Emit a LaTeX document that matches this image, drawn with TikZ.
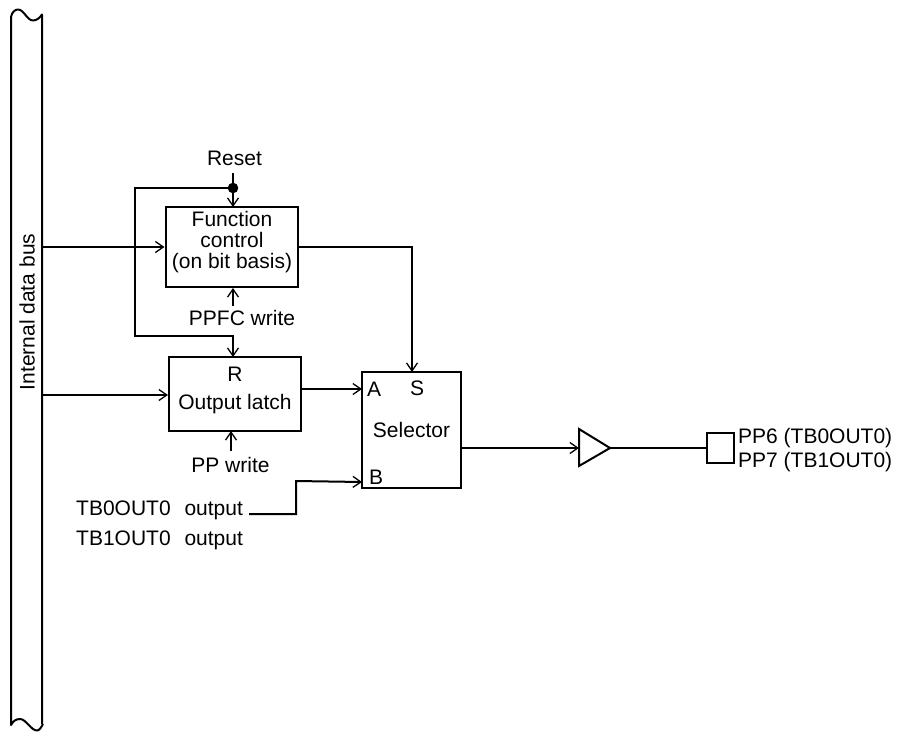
\documentclass[tikz,border=0pt]{standalone}
\usepackage{fontspec}
\setmainfont{Liberation Sans}
\usetikzlibrary{arrows.meta}
\tikzset{
  x=1pt,y=-1pt,
  wire/.style={line width=2pt,-{Straight Barb[length=8pt,width=11pt,line width=1.3pt]}},
  plainwire/.style={line width=2pt},
  blockbox/.style={draw,line width=2pt,inner sep=0pt,align=center},
  lbl/.style={font=\fontsize{21}{21}\selectfont,inner sep=0pt,align=center},
}
\begin{document}
\begin{tikzpicture}
\useasboundingbox (0,0) rectangle (901,731);
% bus
\draw[line width=2pt,line join=round] (42,724) -- (42,14.5) .. controls (40,17.5) and (37,20.5) .. (33,20.5)
  .. controls (27,20.5) and (24,9.5) .. (18,9.5) .. controls (15,9.5) and (12,12) .. (11,17) -- (11,725)
  .. controls (13,721) and (16,719) .. (20,719) .. controls (26,719) and (31,730.5) .. (37,730.5) .. controls (39,730.5) and (41,728) .. (43,724);
\node[lbl,rotate=90] (busl) at (27,312) {Internal data bus};
% blocks
\node[blockbox,minimum width=132pt,minimum height=80pt] (fc) at (231.5,247) {};
\node[lbl] (fct) at (232,242.5) {Function\\control\\(on bit basis)};
\node[blockbox,minimum width=132pt,minimum height=74pt] (ol) at (235,394) {};
\node[lbl] (olr) at (235,374) {R};
\node[lbl] (olt) at (235,404) {Output latch};
\node[blockbox,minimum width=99pt,minimum height=116pt] (sel) at (411.5,430) {};
\node[lbl] (sela) at (374,389.5) {A};
\node[lbl] (sels) at (417,388.5) {S};
\node[lbl] (selt) at (411.5,430) {Selector};
\node[lbl] (selb) at (376,477) {B};
\node[draw,line width=2pt,minimum width=27pt,minimum height=30pt,inner sep=0pt] (pad) at (720.5,448) {};
% buffer
\coordinate (ti) at (579,448);
\coordinate (to) at (610,448);
\draw[line width=2pt,line join=miter] (579,429) -- (610,448) -- (579,466) -- cycle;
% labels
\node[lbl] (reset) at (234.5,158) {Reset};
\node[lbl] (ppfc) at (242,318) {PPFC write};
\node[lbl] (ppw) at (230.5,465) {PP write};
\node[lbl,anchor=base west] (tb0) at (76,515) {TB0OUT0\hspace{8pt} output};
\node[lbl,anchor=base west] (tb1) at (76,545.5) {TB1OUT0\hspace{8pt} output};
\node[lbl,anchor=base west] (pp6) at (738,443) {PP6 (TB0OUT0)};
\node[lbl,anchor=base west] (pp7) at (738,467) {PP7 (TB1OUT0)};
% junction + free coordinates
\coordinate (rtop) at (233,173);
\coordinate (dot) at (233,188);
\coordinate (lt) at (135,188);
\coordinate (lb) at (135,336);
\coordinate (lr) at (233,336);
\fill (dot) circle (5.3pt);
\draw[wire] (rtop) -- (233,207);
\draw[wire] (dot) -- (lt) -- (lb) -- (lr) -- (233,357);
\coordinate (b1) at (42,247);
\coordinate (b2) at (42,395);
\draw[wire] (b1) -- (fc.west);
\draw[wire] (b2) -- (ol.west |- b2);
\coordinate (c1) at (412,247);
\draw[wire] (fc.east) -- (c1) -- (412,372);
\draw[wire] (301,389) -- (362,389);
\coordinate (pf) at (233,306);
\draw[wire] (pf) -- (233,288);
\coordinate (pw) at (231,451);
\draw[wire] (pw) -- (231,431);
\coordinate (t0) at (249,514);
\coordinate (t1) at (296,514);
\coordinate (t2) at (296,481);
\draw[wire] (t0) -- (t1) -- (t2) -- (362,482);
\draw[wire] (sel.east |- ti) -- (ti);
\draw[plainwire] (to) -- (pad.west);
\draw[line width=2.6pt] (to) -- (623,448);
\end{tikzpicture}
\end{document}
